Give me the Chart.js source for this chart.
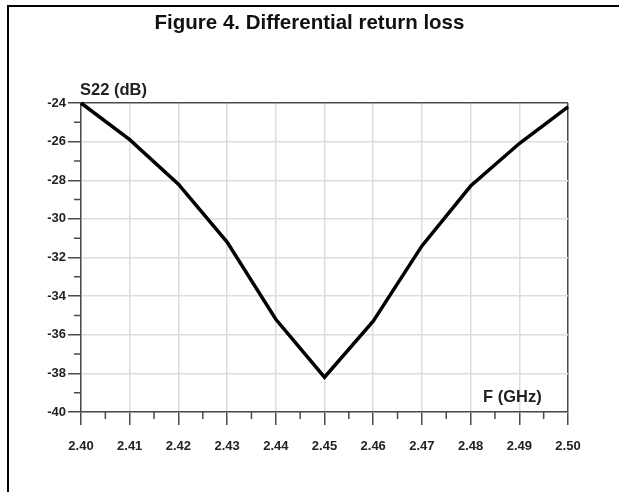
<!DOCTYPE html>
<html>
<head>
<meta charset="utf-8">
<script src="https://cdn.jsdelivr.net/npm/chart.js@4.4.0/dist/chart.umd.min.js"></script>
<style>
    body { margin: 0; background: #fff; }
    #wrap { position: relative; width: 619px; height: 492px; overflow: hidden; font-family: "Liberation Sans", Arial, sans-serif; }
    #frame { position: absolute; left: 7px; top: 5px; right: -10px; bottom: -10px; border-left: 2px solid #000; border-top: 2px solid #000; }
    canvas { position: absolute; left: 0; top: 0; }
    .txt { position: absolute; font-weight: bold; color: #222; white-space: nowrap; line-height: 1; }
    #title { left: 0; width: 619px; text-align: center; top: 12px; font-size: 20.5px; color: #111; }
    #ytitle { left: 80px; top: 81px; font-size: 16.5px; }
    #xtitle { left: 483px; top: 388px; font-size: 16.5px; }
</style>
</head>
<body>
<div id="wrap">
    <canvas id="chart" width="619" height="492"></canvas>
    <div id="frame"></div>
    <div class="txt" id="title">Figure 4. Differential return loss</div>
    <div class="txt" id="ytitle">S22 (dB)</div>
    <div class="txt" id="xtitle">F (GHz)</div>
</div>
<script>
const freqs = [2.40, 2.41, 2.42, 2.43, 2.44, 2.45, 2.46, 2.47, 2.48, 2.49, 2.50];
const s22 = [-24.0, -25.9, -28.2, -31.2, -35.2, -38.2, -35.3, -31.4, -28.3, -26.1, -24.2];
const xTicks = [2.40, 2.41, 2.42, 2.43, 2.44, 2.45, 2.46, 2.47, 2.48, 2.49, 2.50];
const yTicks = [-40, -38, -36, -34, -32, -30, -28, -26, -24];

const axisColor = '#4a4a4a';
const gridColor = '#ddd';

// short minor ticks halfway between the labelled ones
const minorTicks = {
    id: 'minorTicks',
    afterDraw(chart) {
        const ctx = chart.ctx;
        const x = chart.scales.x;
        const y = chart.scales.y;
        ctx.save();
        ctx.strokeStyle = axisColor;
        ctx.lineWidth = 1.5;
        ctx.beginPath();
        for (let i = 0; i < xTicks.length - 1; i++) {
            const px = x.getPixelForValue((xTicks[i] + xTicks[i + 1]) / 2);
            ctx.moveTo(px, y.bottom);
            ctx.lineTo(px, y.bottom + 7);
        }
        for (let i = 0; i < yTicks.length - 1; i++) {
            const py = y.getPixelForValue((yTicks[i] + yTicks[i + 1]) / 2);
            ctx.moveTo(x.left, py);
            ctx.lineTo(x.left - 7, py);
        }
        ctx.stroke();
        ctx.restore();
    }
};

new Chart(document.getElementById('chart'), {
    type: 'line',
    data: {
        datasets: [{
            data: freqs.map((f, i) => ({ x: f, y: s22[i] })),
            borderColor: '#000',
            borderWidth: 3.5,
            pointRadius: 0,
            tension: 0,
            clip: false
        }]
    },
    options: {
        responsive: false,
        animation: false,
        events: [],
        layout: { padding: { left: 0, right: 51, top: 103, bottom: 0 } },
        plugins: { legend: { display: false }, tooltip: { enabled: false } },
        scales: {
            x: {
                type: 'linear',
                min: 2.40,
                max: 2.50,
                afterFit: s => { s.height = 80; },
                afterBuildTicks: s => { s.ticks = xTicks.map(v => ({ value: v })); },
                ticks: {
                    callback: v => v.toFixed(2),
                    font: { family: 'Liberation Sans', size: 13, weight: 'bold' },
                    color: '#222',
                    padding: 14,
                    maxRotation: 0,
                    autoSkip: false
                },
                grid: {
                    color: c => c.tick && Math.abs(c.tick.value - 2.50) < 1e-6 ? axisColor : gridColor,
                    lineWidth: 1.5,
                    tickColor: axisColor,
                    tickLength: 13
                },
                border: { color: axisColor, width: 1.5 }
            },
            y: {
                min: -40,
                max: -24,
                afterFit: s => { s.width = 81; },
                afterBuildTicks: s => { s.ticks = yTicks.map(v => ({ value: v })); },
                ticks: {
                    font: { family: 'Liberation Sans', size: 13, weight: 'bold' },
                    color: '#222',
                    padding: 2
                },
                grid: {
                    color: c => c.tick && c.tick.value === -24 ? axisColor : gridColor,
                    lineWidth: 1.5,
                    tickColor: axisColor,
                    tickLength: 13
                },
                border: { color: axisColor, width: 1.5 }
            }
        }
    },
    plugins: [minorTicks]
});
</script>
</body>
</html>
